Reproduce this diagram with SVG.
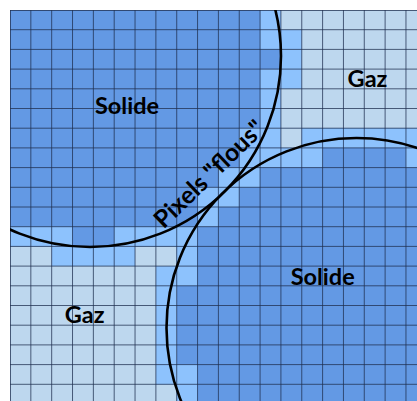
<svg xmlns="http://www.w3.org/2000/svg" width="417" height="401" viewBox="0 0 417 401">
<style>
.s{fill:#6399E4}
.i{fill:#8DC2FD}
.g{fill:#BDD7EE}
.grid{fill:none;stroke:#1F2F4F;stroke-opacity:0.75;stroke-width:1}
.c{fill:none;stroke:#000;stroke-width:2.6}
.t{font-family:Lato,"Open Sans","Liberation Sans",sans-serif;font-weight:bold;font-size:23.5px;fill:#000}
</style>
<defs>
<clipPath id="area"><rect x="10" y="10" width="407" height="391"/></clipPath>
</defs>
<rect width="417" height="401" fill="#fff"/>
<g id="cells" clip-path="url(#area)">
<rect class="s" x="10" y="10" width="416.8" height="394"/>
<rect class="g" x="280.92" y="10" width="145.88" height="118.2"/>
<rect class="g" x="280.92" y="128.2" width="20.84" height="19.7"/>
<rect class="g" x="10" y="246.4" width="166.72" height="157.6"/>
<rect class="i" x="260.08" y="10" width="20.84" height="39.4"/>
<rect class="i" x="280.92" y="29.7" width="20.84" height="59.1"/>
<rect class="i" x="260.08" y="69.1" width="20.84" height="78.8"/>
<rect class="i" x="239.24" y="128.2" width="20.84" height="19.7"/>
<rect class="i" x="301.76" y="128.2" width="125.04" height="19.7"/>
<rect class="i" x="239.24" y="147.9" width="83.36" height="19.7"/>
<rect class="i" x="405.96" y="147.9" width="20.84" height="19.7"/>
<rect class="i" x="218.4" y="167.6" width="41.68" height="19.7"/>
<rect class="i" x="197.56" y="187.3" width="41.68" height="19.7"/>
<rect class="i" x="197.56" y="207" width="20.84" height="19.7"/>
<rect class="i" x="10" y="226.7" width="62.52" height="19.7"/>
<rect class="i" x="114.2" y="226.7" width="83.36" height="19.7"/>
<rect class="i" x="51.68" y="246.4" width="83.36" height="19.7"/>
<rect class="i" x="176.72" y="246.4" width="20.84" height="39.4"/>
<rect class="i" x="155.88" y="266.1" width="20.84" height="118.5"/>
<rect class="i" x="176.72" y="364.6" width="20.84" height="39.4"/>
</g>
<g id="grid">
<path class="grid" d="M10.5 10V401M30.84 10V401M51.68 10V401M72.52 10V401M93.36 10V401M114.2 10V401M135.04 10V401M155.88 10V401M176.72 10V401M197.56 10V401M218.4 10V401M239.24 10V401M260.08 10V401M280.92 10V401M301.76 10V401M322.6 10V401M343.44 10V401M364.28 10V401M385.12 10V401M405.96 10V401
M10 10.5H417M10 29.7H417M10 49.4H417M10 69.1H417M10 88.8H417M10 108.5H417M10 128.2H417M10 147.9H417M10 167.6H417M10 187.3H417M10 207H417M10 226.7H417M10 246.4H417M10 266.1H417M10 285.8H417M10 305.5H417M10 325.2H417M10 344.9H417M10 364.6H417M10 384.3H417"/>
</g>
<g id="connectors" clip-path="url(#area)">
<circle id="circle-solide-1" class="c" cx="90" cy="56" r="191"/>
<circle id="circle-solide-2" class="c" cx="356.5" cy="328" r="190"/>
</g>
<g id="label-solide-1"><text class="t" x="127" y="114" text-anchor="middle">Solide</text></g>
<g id="label-gaz-1"><text class="t" x="367.5" y="86.5" text-anchor="middle">Gaz</text></g>
<g id="label-gaz-2"><text class="t" x="84.7" y="322.5" text-anchor="middle">Gaz</text></g>
<g id="label-solide-2"><text class="t" x="322.7" y="285" text-anchor="middle">Solide</text></g>
<g id="label-pixels-flous"><text class="t" transform="translate(215,180) rotate(-44)" x="0" y="0" text-anchor="middle" style="font-size:24.5px">Pixels "flous"</text></g>
</svg>
